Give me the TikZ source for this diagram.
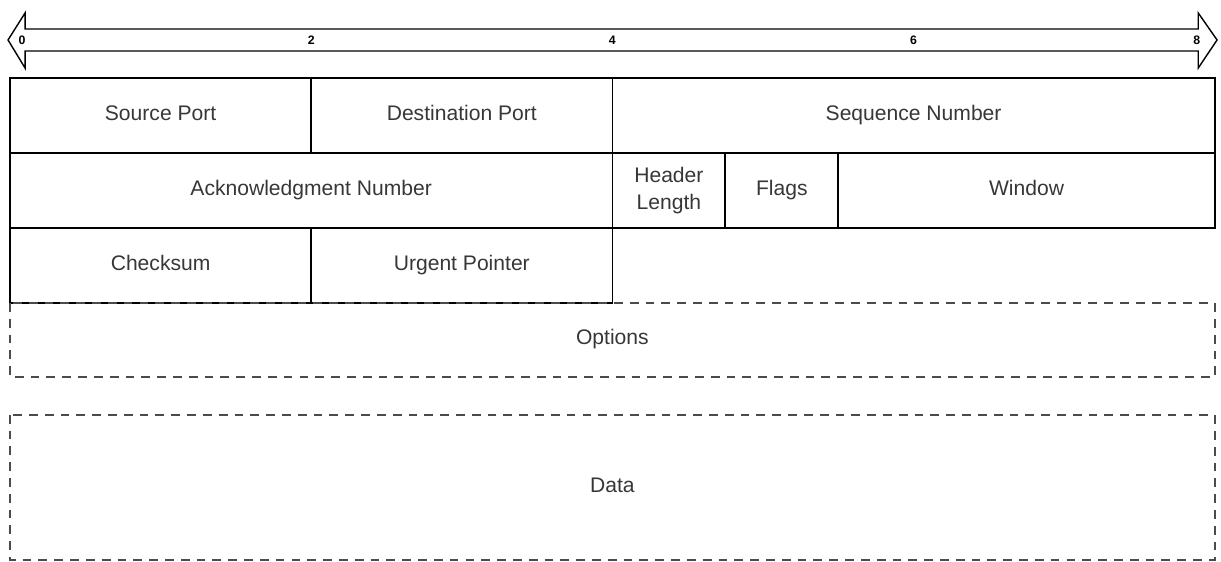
\documentclass[tikz,border=0pt]{standalone}
\usepackage{fontspec}
\setmainfont{Liberation Sans}
\usepackage{tikz}
\usetikzlibrary{positioning}
\definecolor{textGray}{RGB}{55,55,55}
\definecolor{dashGray}{RGB}{75,75,75}
\tikzstyle{packetGrid} = [x = 3.012cm, y = -1.5cm]
\tikzstyle{fieldStyle} = [color=black, line width=1pt]
\tikzstyle{optionalStyle} = [color=dashGray, line width=1pt, dash pattern=on 5pt off 4pt]
\tikzstyle{fieldText} = [font=\fontsize{12}{15}\selectfont, text=textGray, align=center, text height=0.75em, text depth=0.22em, midway]
\tikzstyle{twoLineText} = [fieldText, text height=, text depth=]
\tikzstyle{byteText} = [font=\fontsize{7}{8}\selectfont\bfseries, inner sep=0pt]
\tikzstyle{rulerStyle} = [color=black, line width=0.8pt, line join=miter, fill=white]
\newcommand{\headerField}[6]{\draw [fieldStyle] (#1, #2) rectangle (#3, #4) node [fieldText] (#5) {#6};}
\newcommand{\optionalField}[6]{\draw [optionalStyle] (#1, #2) rectangle (#3, #4) node [fieldText] (#5) {#6};}

\begin{document}
\begin{tikzpicture}[packetGrid]
  \useasboundingbox (-0.0664, -1.04) rectangle (8.0412, 6.4533);
  % byte ruler
  \draw [rulerStyle] (-0.013, -0.507) -- (0.1, -0.867) -- (0.1, -0.653) -- (7.89, -0.653)
    -- (7.89, -0.867) -- (8.015, -0.507) -- (7.89, -0.133) -- (7.89, -0.36)
    -- (0.1, -0.36) -- (0.1, -0.133) -- cycle;
  \foreach \mark/\pos in {0/0.08, 2/2, 4/4, 6/6, 8/7.88} {
    \node [byteText] (mark\mark) at (\pos, -0.507) {\mark};
  }
  % fixed header
  \headerField{0}{0}{2}{1}{sourcePort}{Source Port}
  \headerField{2}{0}{4}{1}{destPort}{Destination Port}
  \headerField{4}{0}{8}{1}{seqNumber}{Sequence Number}
  \headerField{0}{1}{4}{2}{ackNumber}{Acknowledgment Number}
  \draw [fieldStyle] (4, 1) rectangle (4.75, 2) node [twoLineText] (headerLength) {Header\\Length};
  \headerField{4.75}{1}{5.5}{2}{flags}{Flags}
  \headerField{5.5}{1}{8}{2}{window}{Window}
  \headerField{0}{2}{2}{3}{checksum}{Checksum}
  \headerField{2}{2}{4}{3}{urgentPointer}{Urgent Pointer}
  % optional parts
  \optionalField{0}{3}{8}{3.99}{options}{Options}
  \optionalField{0}{4.49}{8}{6.43}{data}{Data}
\end{tikzpicture}
\end{document}
